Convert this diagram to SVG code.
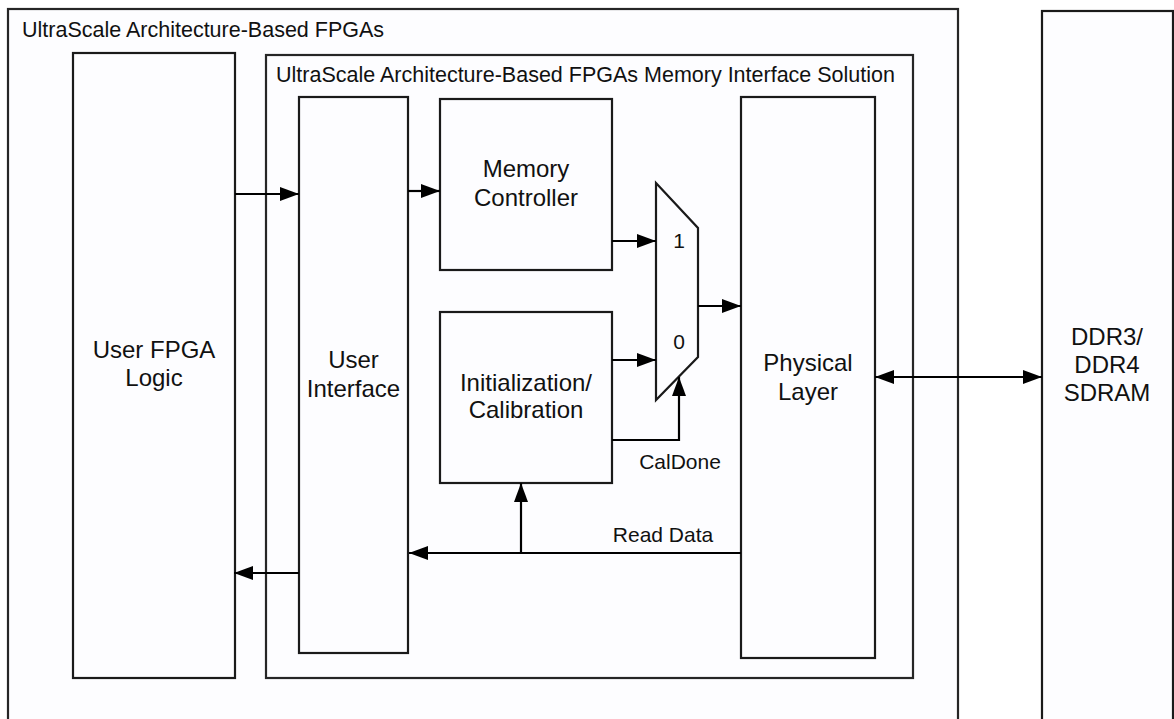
<svg xmlns="http://www.w3.org/2000/svg" width="1174" height="719" viewBox="0 0 1174 719">
<style>
.box{fill:#fdfdff;stroke:#1a1a1a;stroke-width:2.2}
.frame{fill:#fdfdff;stroke:#262626;stroke-width:2.2}
.lbl{font-family:"Liberation Sans",Arial,sans-serif;font-size:24px;fill:#111;text-anchor:middle}
.ttl{font-family:"Liberation Sans",Arial,sans-serif;font-size:21.5px;fill:#111}
.sm{font-family:"Liberation Sans",Arial,sans-serif;font-size:21px;fill:#111;text-anchor:middle}
.wire{fill:none;stroke:#000;stroke-width:2.2}
</style>
<defs>
<marker id="ah" markerUnits="userSpaceOnUse" markerWidth="19" markerHeight="14" refX="19" refY="7" orient="auto-start-reverse">
<path d="M0,0 L19,7 L0,14 z" fill="#000"/>
</marker>
</defs>
<rect width="1174" height="719" fill="#fff"/>
<g id="fpga">
<rect class="frame" x="8" y="9" width="950" height="720"/>
<text class="ttl" x="22" y="37">UltraScale Architecture-Based FPGAs</text>
</g>
<g id="user-fpga-logic">
<rect class="box" x="73" y="53" width="162" height="625"/>
<text class="lbl" x="154" y="358">User FPGA</text>
<text class="lbl" x="154" y="386">Logic</text>
</g>
<g id="mis">
<rect class="frame" x="266" y="55" width="647" height="623"/>
<text class="ttl" x="276" y="82">UltraScale Architecture-Based FPGAs Memory Interface Solution</text>
</g>
<g id="user-interface">
<rect class="box" x="299" y="97" width="109" height="556"/>
<text class="lbl" x="353.5" y="368">User</text>
<text class="lbl" x="353.5" y="397">Interface</text>
</g>
<g id="memory-controller">
<rect class="box" x="440" y="99" width="172" height="171"/>
<text class="lbl" x="526" y="177">Memory</text>
<text class="lbl" x="526" y="206">Controller</text>
</g>
<g id="init-cal">
<rect class="box" x="440" y="312" width="172" height="171"/>
<text class="lbl" x="526" y="391">Initialization/</text>
<text class="lbl" x="526" y="418">Calibration</text>
</g>
<g id="mux">
<path class="box" d="M656,183 L698,228 L698,357 L656,400 Z"/>
<text class="sm" x="679" y="248">1</text>
<text class="sm" x="679" y="349">0</text>
</g>
<g id="physical-layer">
<rect class="box" x="741" y="97" width="134" height="561"/>
<text class="lbl" x="808" y="371">Physical</text>
<text class="lbl" x="808" y="400">Layer</text>
</g>
<g id="ddr">
<rect class="box" x="1042" y="11" width="131" height="720"/>
<text class="lbl" x="1107" y="345">DDR3/</text>
<text class="lbl" x="1107" y="373">DDR4</text>
<text class="lbl" x="1107" y="401">SDRAM</text>
</g>
<g id="connectors">
<path class="wire" d="M235,194 L299,194" marker-end="url(#ah)"/>
<path class="wire" d="M408,191 L440,191" marker-end="url(#ah)"/>
<path class="wire" d="M612,241 L656,241" marker-end="url(#ah)"/>
<path class="wire" d="M612,360 L656,360" marker-end="url(#ah)"/>
<path class="wire" d="M698,306 L741,306" marker-end="url(#ah)"/>
<path class="wire" d="M612,440 L679,440 L679,377" marker-end="url(#ah)"/>
<path class="wire" d="M741,553 L409,553" marker-end="url(#ah)"/>
<path class="wire" d="M521,553 L521,483" marker-end="url(#ah)"/>
<path class="wire" d="M299,573 L234,573" marker-end="url(#ah)"/>
<path class="wire" d="M875,377 L1042,377" marker-start="url(#ah)" marker-end="url(#ah)"/>
<text class="sm" x="680" y="469">CalDone</text>
<text class="sm" x="663" y="542">Read Data</text>
</g>
</svg>
